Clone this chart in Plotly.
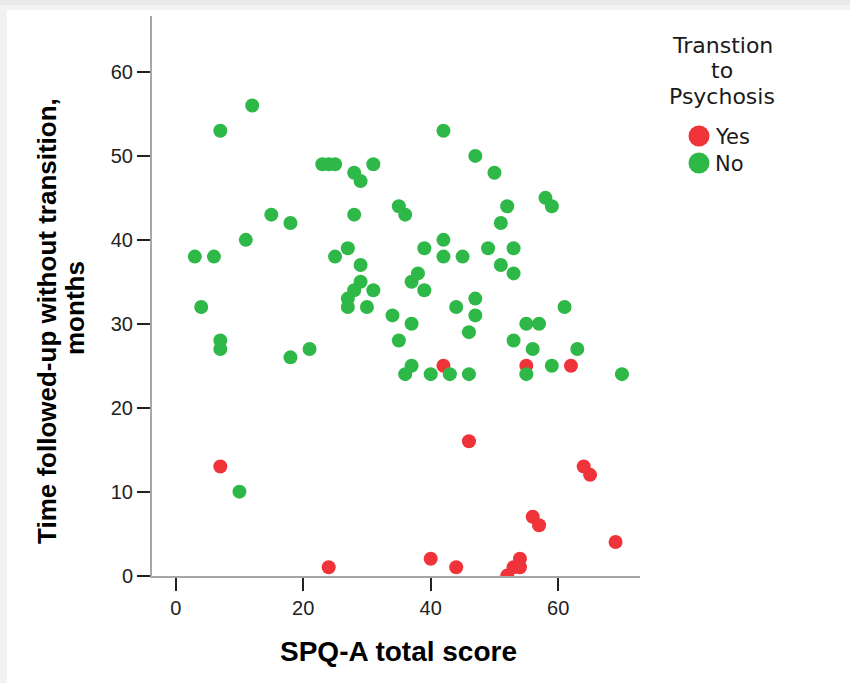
import plotly.graph_objects as go

# SPQ-A total score vs. months followed up without transition
yes_score = [7, 24, 40, 42, 44, 46, 52, 53, 54, 54, 55, 56, 57, 62, 64, 65, 69]
yes_months = [13, 1, 2, 25, 1, 16, 0, 1, 1, 2, 25, 7, 6, 25, 13, 12, 4]

no_score = [3, 4, 6, 7, 7, 7, 10, 11, 12, 15, 18, 18, 21, 23, 24, 25, 25, 27, 27, 27,
            28, 28, 28, 29, 29, 29, 30, 31, 31, 34, 35, 35, 36, 36, 37, 37, 37, 38, 39, 39,
            40, 42, 42, 42, 43, 44, 45, 46, 46, 47, 47, 47, 49, 50, 51, 51, 52, 53, 53, 53,
            55, 55, 56, 57, 58, 59, 59, 61, 63, 70]
no_months = [38, 32, 38, 53, 28, 27, 10, 40, 56, 43, 42, 26, 27, 49, 49, 49, 38, 39, 33, 32,
             48, 43, 34, 47, 37, 35, 32, 49, 34, 31, 44, 28, 43, 24, 35, 30, 25, 36, 39, 34,
             24, 53, 40, 38, 24, 32, 38, 29, 24, 50, 33, 31, 39, 48, 42, 37, 44, 39, 36, 28,
             30, 24, 27, 30, 45, 44, 25, 32, 27, 24]

x_ticks = [0, 20, 40, 60]
y_ticks = [0, 10, 20, 30, 40, 50, 60]

RED = "#EF3338"
GREEN = "#2EB848"
FONT = "Liberation Sans"
LEG_FONT = "DejaVu Sans"

W, H = 850, 683
L, R, T, B = 152, 640, 16, 576


def px_x(px):
    return (px - L) / (R - L)


def px_y(py):
    return (B - py) / (B - T)


fig = go.Figure()
fig.add_trace(go.Scatter(x=yes_score, y=yes_months, mode="markers", name="Yes",
                         marker=dict(color=RED, size=14, line=dict(width=0))))
fig.add_trace(go.Scatter(x=no_score, y=no_months, mode="markers", name="No",
                         marker=dict(color=GREEN, size=14, line=dict(width=0))))

shapes = [
    # card background with a soft frame
    dict(type="rect", xref="paper", yref="paper", layer="below",
         x0=px_x(0), x1=px_x(W), y0=px_y(H), y1=px_y(0),
         fillcolor="#f2f2f2", line_width=0),
    dict(type="rect", xref="paper", yref="paper", layer="below",
         x0=px_x(0), x1=px_x(W), y0=px_y(5), y1=px_y(0),
         fillcolor="#e9e9e9", line_width=0),
    dict(type="rect", xref="paper", yref="paper", layer="below",
         x0=px_x(7), x1=px_x(W), y0=px_y(H), y1=px_y(10),
         fillcolor="white", line_width=0),
]

# legend swatches
for col, cy in [(RED, 136), (GREEN, 163)]:
    shapes.append(dict(type="circle", xref="paper", yref="paper",
                       xsizemode="pixel", ysizemode="pixel",
                       xanchor=px_x(699), yanchor=px_y(cy),
                       x0=-10.5, x1=10.5, y0=-10.5, y1=10.5,
                       fillcolor=col, line_width=0))

annotations = []
for txt, cy in [("Transtion", 45), ("to", 70), ("Psychosis", 96)]:
    annotations.append(dict(text=txt, xref="paper", yref="paper",
                            x=px_x(722), y=px_y(cy), xanchor="center", yanchor="middle",
                            showarrow=False, font=dict(family=LEG_FONT, size=22, color="#1a1a1a")))
for txt, cy in [("Yes", 137), ("No", 164)]:
    annotations.append(dict(text=txt, xref="paper", yref="paper",
                            x=px_x(713), y=px_y(cy), xanchor="left", yanchor="middle",
                            showarrow=False, font=dict(family=LEG_FONT, size=21, color="#1a1a1a")))

# axis titles
annotations.append(dict(text="<b>SPQ-A total score</b>", xref="paper", yref="paper",
                        x=px_x(398), y=px_y(651), xanchor="center", yanchor="middle",
                        showarrow=False, font=dict(family=FONT, size=28, color="black")))
annotations.append(dict(text="<b>Time followed-up without transition,</b>", xref="paper", yref="paper",
                        x=px_x(47), y=px_y(321), xanchor="center", yanchor="middle",
                        textangle=-90, showarrow=False,
                        font=dict(family=FONT, size=26, color="black")))
annotations.append(dict(text="<b>months</b>", xref="paper", yref="paper",
                        x=px_x(75), y=px_y(308), xanchor="center", yanchor="middle",
                        textangle=-90, showarrow=False,
                        font=dict(family=FONT, size=26, color="black")))

x_per_px = 20 / 127.5
y_per_px = 10 / 84.0
x0_px = 175.7

fig.update_layout(
    width=W, height=H,
    margin=dict(l=L, r=W - R, t=T, b=H - B, pad=0),
    paper_bgcolor="#f2f2f2", plot_bgcolor="white",
    showlegend=False,
    shapes=shapes, annotations=annotations,
    xaxis=dict(range=[(L - x0_px) * x_per_px, (R - x0_px) * x_per_px],
               tickmode="array", tickvals=x_ticks, ticktext=[str(v) for v in x_ticks],
               showgrid=False, zeroline=False,
               showline=True, linecolor="#a6a6a6", linewidth=2,
               ticks="outside", ticklen=13, tickwidth=2, tickcolor="#222222",
               tickfont=dict(family=FONT, size=20, color="#222222")),
    yaxis=dict(range=[-0.05, (B - T) * y_per_px],
               tickmode="array", tickvals=y_ticks, ticktext=[str(v) for v in y_ticks],
               showgrid=False, zeroline=False,
               showline=True, linecolor="#a6a6a6", linewidth=2,
               ticks="outside", ticklen=13, tickwidth=2, tickcolor="#222222",
               tickfont=dict(family=FONT, size=20, color="#222222")),
)

fig.write_html("out.html")
